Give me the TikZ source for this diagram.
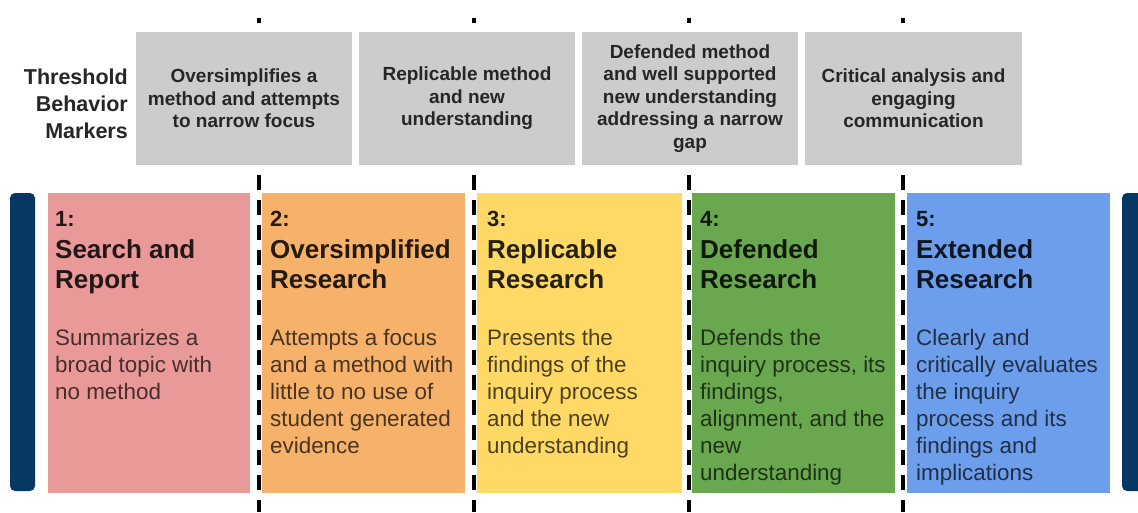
\documentclass[tikz,border=0pt]{standalone}
\usepackage{fontspec}
\setmainfont{Liberation Sans}
\definecolor{pinkc}{HTML}{EA9999}
\definecolor{orangec}{HTML}{F6B26B}
\definecolor{yellowc}{HTML}{FFD966}
\definecolor{greenc}{HTML}{6AA84F}
\definecolor{bluec}{HTML}{6D9EEB}
\definecolor{navyc}{HTML}{073763}
\definecolor{grayc}{HTML}{CCCCCC}
\tikzset{
  graybox/.style={fill=grayc, draw=none, minimum width=216pt, minimum height=133pt, inner sep=0pt,
    align=center, text=black!85, font=\bfseries\fontsize{19}{22.5}\selectfont},
  stagebox/.style={draw=none, minimum height=300pt, inner sep=0pt},
  numtxt/.style={anchor=base west, inner sep=0pt, text=black, text opacity=0.85, font=\bfseries\fontsize{22}{26}\selectfont},
  titletxt/.style={anchor=base west, inner sep=0pt, text=black, text opacity=0.85, font=\bfseries\fontsize{26}{30}\selectfont},
  bodytxt/.style={anchor=base west, inner sep=0pt, text=black, text opacity=0.7, font=\fontsize{22.4}{27}\selectfont},
  divider/.style={line width=3.5pt, black, dash pattern=on 15pt off 10pt},
  navybar/.style={fill=navyc, rounded corners=5pt}
}
\newcommand\stagetext[5]{%
  \node[numtxt] (n#1) at (#2,226.5) {#1:};
  \node[titletxt] (t#1a) at (#2,258) {#3};
  \node[titletxt] (t#1b) at (#2,288) {#4};
  \foreach \l [count=\i] in {#5} {\node[bodytxt] (b#1-\i) at (#2,{345+27*(\i-1)}) {\l};}
}
\begin{document}
\begin{tikzpicture}[x=1pt,y=-1pt]
\useasboundingbox (0,0) rectangle (1138,512);
\fill[white] (0,0) rectangle (1138,512);

% navy side bars
\fill[navybar] (10,193) rectangle (35,491);
\fill[navybar] (1122,193) rectangle (1148,491);

% stage boxes
\node[stagebox, fill=pinkc, minimum width=202pt] (s1) at (149,343) {};
\node[stagebox, fill=orangec, minimum width=203pt] (s2) at (363.5,343) {};
\node[stagebox, fill=yellowc, minimum width=205pt] (s3) at (579.5,343) {};
\node[stagebox, fill=greenc, minimum width=203pt] (s4) at (793.5,343) {};
\node[stagebox, fill=bluec, minimum width=203pt] (s5) at (1008.5,343) {};

% threshold header
\node[anchor=east, inner sep=0pt, align=right, text=black!85,
  font=\bfseries\fontsize{21.5}{27}\selectfont] (thr) at (128,104) {Threshold\\Behavior\\Markers};

% gray marker boxes
\node[graybox] (g1) at (244,98.5) {Oversimplifies a\\method and attempts\\to narrow focus};
\node[graybox] (g2) at (467,98.5) {Replicable method\\and new\\understanding};
\node[graybox] (g3) at (690,98.5) {Defended method\\and well supported\\new understanding\\addressing a narrow\\gap};
\node[graybox, minimum width=217pt] (g4) at (913.5,98.5) {Critical analysis and\\engaging\\communication};

% dividers
\foreach \x in {259,474,689,903} {
  \draw[divider] (\x,18) -- (\x,22.5) (\x,175) -- (\x,512);
}

% stage texts
\stagetext{1}{55}{Search and}{Report}{Summarizes a,broad topic with,no method}
\stagetext{2}{270}{Oversimplified}{Research}{Attempts a focus,and a method with,little to no use of,student generated,evidence}
\stagetext{3}{487}{Replicable}{Research}{Presents the,findings of the,inquiry process,and the new,understanding}
\stagetext{4}{700}{Defended}{Research}{Defends the,{inquiry process, its},{findings,},{alignment, and the},new,understanding}
\stagetext{5}{916}{Extended}{Research}{Clearly and,critically evaluates,the inquiry,process and its,findings and,implications}
\end{tikzpicture}
\end{document}
